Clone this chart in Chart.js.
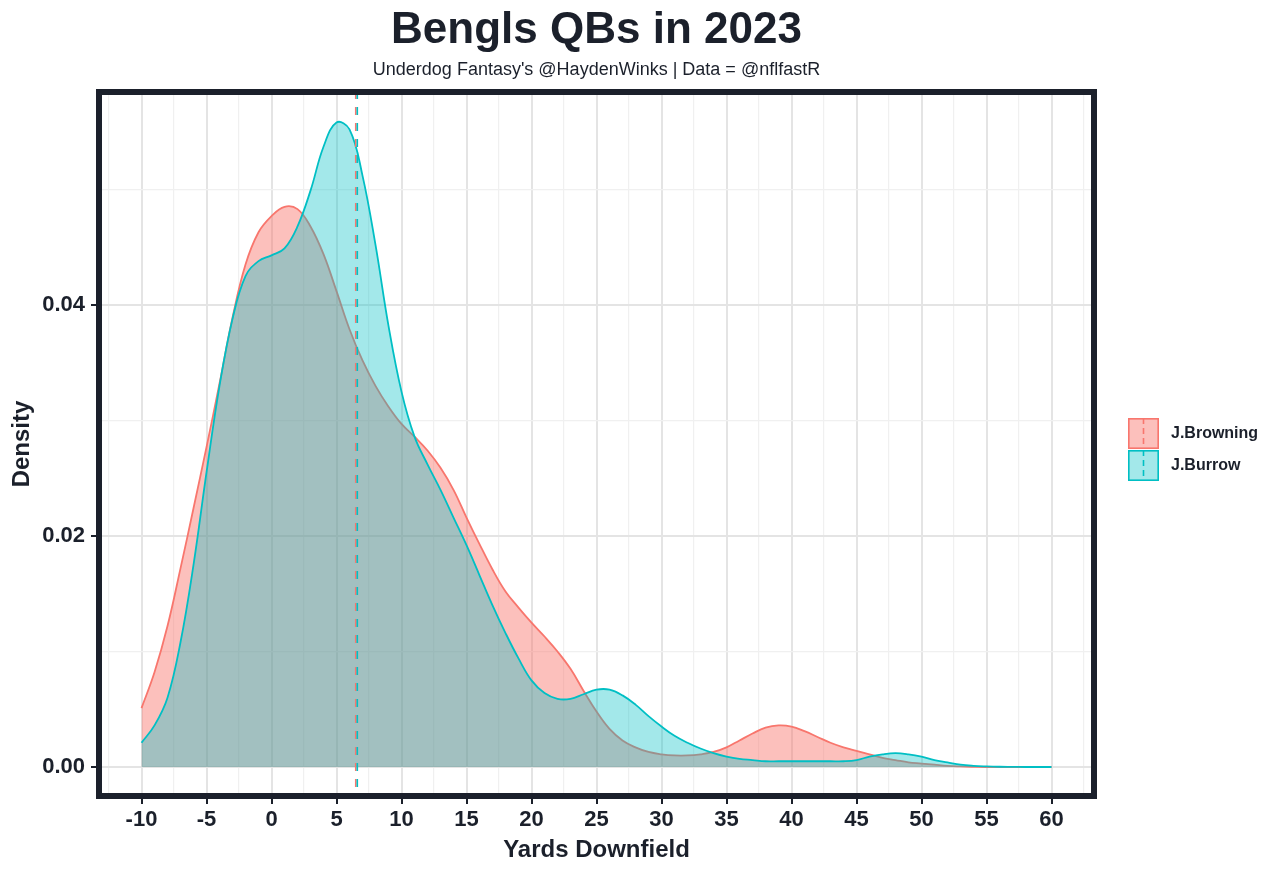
<!DOCTYPE html>
<html>
<head>
<meta charset="utf-8">
<script src="https://cdn.jsdelivr.net/npm/chart.js@4.4.0/dist/chart.umd.min.js"></script>
<style>
  html, body { margin: 0; padding: 0; background: #fff; }
  #wrap { width: 1280px; height: 871px; }
</style>
</head>
<body>
<div id="wrap"><canvas id="qbChart" width="1280" height="871"></canvas></div>
<script>
// ---- data ----
const yards = [-10, -9, -8, -7, -6, -5, -4, -3, -2, -1, 0, 1, 2, 3, 4, 5, 6, 7, 8, 9,
  10, 11, 12, 13, 14, 15, 16, 17, 18, 19, 20, 21, 22, 23, 24, 25, 26, 27, 28, 29,
  30, 31, 32, 33, 34, 35, 36, 37, 38, 39, 40, 41, 42, 43, 44, 45, 46, 47, 48, 49,
  50, 51, 52, 53, 54, 55, 56, 57, 58, 59, 60];

const browning = [0.0051, 0.0082, 0.0122, 0.0172, 0.0224, 0.0277, 0.0332, 0.0389, 0.0435, 0.0463,
  0.0477, 0.0485, 0.0483, 0.0468, 0.0444, 0.0412, 0.0379, 0.0352, 0.0330, 0.0312,
  0.0297, 0.0286, 0.0274, 0.0259, 0.0240, 0.0216, 0.0193, 0.0171, 0.0152, 0.0138,
  0.0125, 0.0113, 0.0100, 0.0085, 0.0066, 0.0048, 0.0033, 0.0023, 0.0017, 0.0013,
  0.0011, 0.0010, 0.0010, 0.0011, 0.0013, 0.0017, 0.0023, 0.0029, 0.0034, 0.0036,
  0.0035, 0.0031, 0.0026, 0.0021, 0.0017, 0.0014, 0.0011, 0.0008, 0.0006, 0.0004,
  0.0003, 0.0002, 0.0001, 0.00005, 0.00002, 0, 0, 0, 0, 0, 0];

const burrow = [0.0021, 0.0036, 0.0060, 0.0108, 0.0175, 0.0255, 0.0330, 0.0388, 0.0425, 0.0438,
  0.0443, 0.0449, 0.0468, 0.0499, 0.0537, 0.0558, 0.0552, 0.0512, 0.0452, 0.0382,
  0.0325, 0.0286, 0.0262, 0.0240, 0.0216, 0.0192, 0.0166, 0.0140, 0.0116, 0.0094,
  0.0075, 0.0064, 0.0059, 0.0059, 0.0063, 0.0067, 0.0067, 0.0062, 0.0054, 0.0044,
  0.0035, 0.0027, 0.0021, 0.0016, 0.0012, 0.0009, 0.0007, 0.0006, 0.0005, 0.0005,
  0.0005, 0.0005, 0.0005, 0.0005, 0.0005, 0.0006, 0.0009, 0.0011, 0.0012, 0.0011,
  0.0009, 0.0006, 0.0004, 0.0002, 0.0001, 0.00005, 0.00002, 0.00001, 0, 0, 0];

const meanBrowning = 6.48;
const meanBurrow = 6.6;

const playerNames = ['J.Browning', 'J.Burrow'];
const xTickLabels = ['-10', '-5', '0', '5', '10', '15', '20', '25', '30', '35', '40', '45', '50', '55', '60'];
const yTickLabels = ['0.00', '0.02', '0.04'];

// ---- styling ----
const RED = '#F8766D';
const TEAL = '#00BFC4';
const RED_FILL = 'rgba(248,118,109,0.46)';
const TEAL_FILL = 'rgba(0,191,196,0.36)';
const INK = '#1b202b';
const FONT = "'Liberation Sans', Arial, Helvetica, sans-serif";

// major ticks from the labels, minor grid lines half way between them
const xMajor = xTickLabels.map(Number);
const xStep = xMajor[1] - xMajor[0];
const xTickValues = [xMajor[0] - xStep / 2];
xMajor.forEach(v => { xTickValues.push(v); xTickValues.push(v + xStep / 2); });

const yMajor = yTickLabels.map(Number);
const yStep = yMajor[1] - yMajor[0];
const yTickValues = [];
yMajor.forEach(v => { yTickValues.push(v); yTickValues.push(v + yStep / 2); });

function isMajor(list, v) {
  return list.some(m => Math.abs(m - v) < 1e-9);
}

function toPoints(ys) {
  return yards.map((x, i) => ({ x: x, y: ys[i] }));
}

// mean lines, panel border and the legend
const panelExtras = {
  id: 'panelExtras',
  afterDatasetsDraw(chart) {
    const { ctx, chartArea: a, scales: { x } } = chart;

    ctx.save();
    ctx.beginPath();
    ctx.rect(a.left, a.top, a.width, a.height);
    ctx.clip();
    ctx.lineWidth = 1.6;
    ctx.setLineDash([8, 8]);
    [[meanBrowning, RED], [meanBurrow, TEAL]].forEach(([m, col]) => {
      const px = x.getPixelForValue(m);
      ctx.strokeStyle = col;
      ctx.beginPath();
      ctx.moveTo(px, a.top + 2);
      ctx.lineTo(px, a.bottom);
      ctx.stroke();
    });
    ctx.restore();

    // thick dark panel border
    ctx.save();
    ctx.lineWidth = 6;
    ctx.strokeStyle = INK;
    ctx.strokeRect(a.left + 3, a.top + 3, a.width - 6, a.height - 6);
    ctx.restore();

    // legend
    const keys = [
      { name: playerNames[0], fill: RED_FILL, line: RED },
      { name: playerNames[1], fill: TEAL_FILL, line: TEAL }
    ];
    const kx = a.right + 31, ky = 418, kw = 31, kh = 31;
    ctx.save();
    keys.forEach((k, i) => {
      const top = ky + i * (kh + 1);
      ctx.fillStyle = k.fill;
      ctx.fillRect(kx, top, kw, kh);
      ctx.lineWidth = 1.6;
      ctx.strokeStyle = k.line;
      ctx.setLineDash([]);
      ctx.strokeRect(kx + 0.8, top + 0.8, kw - 1.6, kh - 1.6);
      ctx.setLineDash([6, 4]);
      ctx.beginPath();
      ctx.moveTo(kx + kw / 2, top);
      ctx.lineTo(kx + kw / 2, top + kh);
      ctx.stroke();
      ctx.setLineDash([]);
      ctx.fillStyle = INK;
      ctx.font = 'bold 16px ' + FONT;
      ctx.textBaseline = 'middle';
      ctx.textAlign = 'left';
      ctx.fillText(k.name, kx + kw + 12, top + kh / 2);
    });
    ctx.restore();
  }
};

new Chart(document.getElementById('qbChart'), {
  type: 'line',
  data: {
    datasets: [
      {
        label: playerNames[0],
        data: toPoints(browning),
        borderColor: RED,
        backgroundColor: RED_FILL,
        borderWidth: 1.8,
        fill: 'origin',
        pointRadius: 0,
        tension: 0.4,
        order: 2
      },
      {
        label: playerNames[1],
        data: toPoints(burrow),
        borderColor: TEAL,
        backgroundColor: TEAL_FILL,
        borderWidth: 1.8,
        fill: 'origin',
        pointRadius: 0,
        tension: 0.4,
        order: 1
      }
    ]
  },
  options: {
    responsive: false,
    animation: false,
    devicePixelRatio: 1,
    layout: { padding: { left: 0, right: 183, top: 0, bottom: 0 } },
    plugins: {
      legend: { display: false },
      tooltip: { enabled: false },
      title: {
        display: true,
        text: 'Bengls QBs in 2023',
        fullSize: false,
        color: INK,
        font: { family: FONT, size: 44, weight: 'bold', lineHeight: 1 },
        padding: { top: 9, bottom: 0 }
      },
      subtitle: {
        display: true,
        text: "Underdog Fantasy's @HaydenWinks | Data = @nflfastR",
        fullSize: false,
        color: INK,
        font: { family: FONT, size: 18, lineHeight: 1 },
        padding: { top: 8, bottom: 10 }
      }
    },
    scales: {
      x: {
        type: 'linear',
        min: -13.5,
        max: 63.5,
        afterBuildTicks: s => { s.ticks = xTickValues.map(v => ({ value: v })); },
        afterFit: s => { s.height = 72; },
        border: { display: false },
        grid: {
          color: c => isMajor(xMajor, c.tick.value) ? '#e4e4e4' : '#f0f0f0',
          lineWidth: c => isMajor(xMajor, c.tick.value) ? 2 : 1.2,
          tickColor: c => isMajor(xMajor, c.tick.value) ? INK : 'rgba(0,0,0,0)',
          tickLength: 5,
          tickWidth: 2
        },
        ticks: {
          autoSkip: false,
          maxRotation: 0,
          padding: 3,
          color: INK,
          font: { family: FONT, size: 22, weight: 'bold' },
          callback: v => {
            const i = xMajor.findIndex(m => Math.abs(m - v) < 1e-9);
            return i >= 0 ? xTickLabels[i] : '';
          }
        },
        title: {
          display: true,
          text: 'Yards Downfield',
          color: INK,
          font: { family: FONT, size: 24, weight: 'bold' },
          padding: { top: 0, bottom: 6 }
        }
      },
      y: {
        type: 'linear',
        min: -0.00277,
        max: 0.0587,
        afterBuildTicks: s => { s.ticks = yTickValues.map(v => ({ value: v })); },
        afterFit: s => { s.width = 96; },
        border: { display: false },
        grid: {
          color: c => isMajor(yMajor, c.tick.value) ? '#e4e4e4' : '#f0f0f0',
          lineWidth: c => isMajor(yMajor, c.tick.value) ? 2 : 1.2,
          tickColor: c => isMajor(yMajor, c.tick.value) ? INK : 'rgba(0,0,0,0)',
          tickLength: 5,
          tickWidth: 2
        },
        ticks: {
          autoSkip: false,
          padding: 6,
          color: INK,
          font: { family: FONT, size: 22, weight: 'bold' },
          callback: v => {
            const i = yMajor.findIndex(m => Math.abs(m - v) < 1e-9);
            return i >= 0 ? yTickLabels[i] : '';
          }
        },
        title: {
          display: true,
          text: 'Density',
          color: INK,
          font: { family: FONT, size: 24, weight: 'bold' },
          padding: { top: 8, bottom: 0 }
        }
      }
    }
  },
  plugins: [panelExtras]
});
</script>
</body>
</html>
